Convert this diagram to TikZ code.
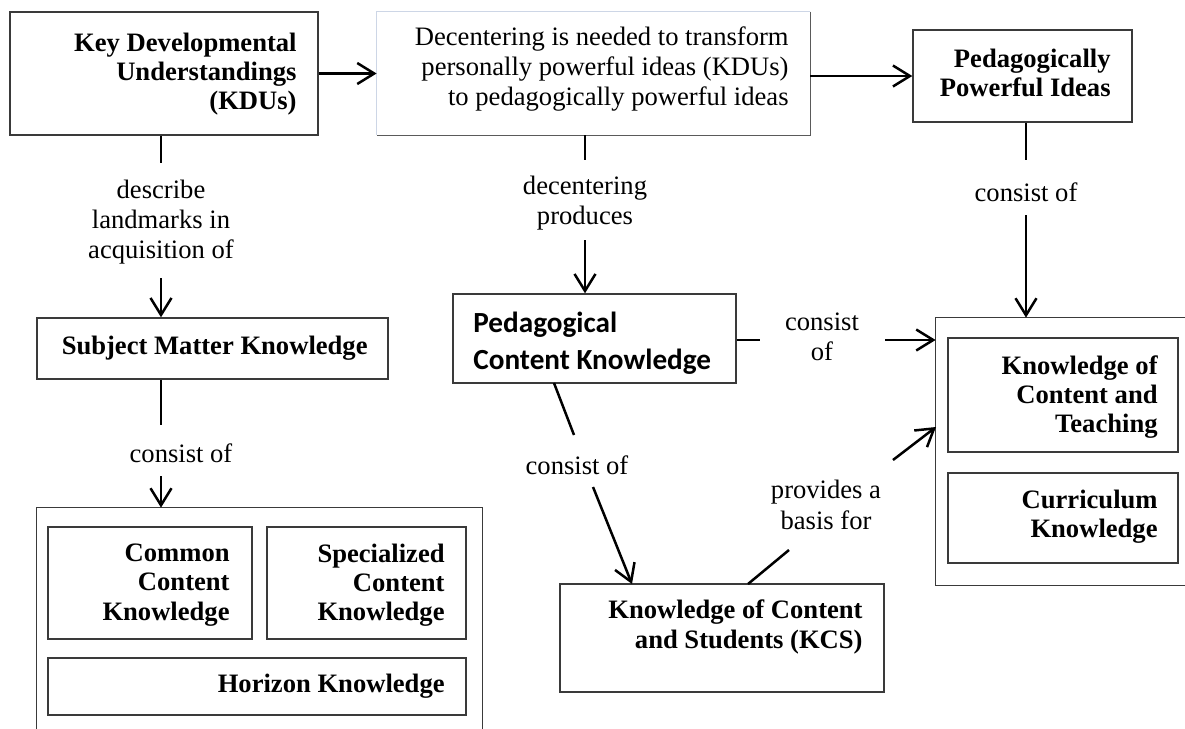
\documentclass[tikz,border=0pt]{standalone}
\usepackage{fontspec}
\setmainfont{Liberation Serif}
\newfontfamily\pcksans{Carlito}
\usetikzlibrary{arrows.meta,fit}
\definecolor{boxgray}{HTML}{3A3A3A}
\definecolor{lightedge}{HTML}{CDD6E6}
\definecolor{darkedge}{HTML}{5A5A5A}
\begin{document}
\begin{tikzpicture}[x=0.5pt,y=-0.5pt,
  box/.style={draw=boxgray, line width=0.7pt, inner sep=0pt},
  area/.style={inner sep=0pt},
  edgeline/.style={draw=boxgray, line width=0.7pt},
  conn/.style={line width=1.25pt},
  arr/.style={conn, -{Straight Barb[length=8.5pt,width=10.5pt,line width=1.25pt]}},
  hd/.style={font=\bfseries\fontsize{13.3}{14.6}\selectfont, inner sep=0pt, align=right},
  lbl/.style={font=\fontsize{13.3}{15.2}\selectfont, inner sep=0pt, align=center}]
\useasboundingbox (0,0) rectangle (1185,729);
\fill[white] (0,0) rectangle (1185,729);

% ---------- boxes ----------
\node[box, fit={(10,12)(318,135)}] (kdu) {};
\node[hd, anchor=east] (kdut) at (297,74) {Key Developmental\\Understandings\\(KDUs)};

\node[area, fit={(377,12)(810,135)}] (dec) {};
\draw[lightedge, line width=0.8pt] (dec.south west) -- (dec.north west) -- (dec.north east);
\draw[darkedge, line width=0.8pt] (dec.north east) -- (dec.south east) -- (dec.south west);
\node[font=\fontsize{13.3}{15.2}\selectfont, inner sep=0pt, align=right, anchor=east] (dect) at (789,69) {Decentering is needed to transform\\personally powerful ideas (KDUs)\\to pedagogically powerful ideas};

\node[box, fit={(913,30)(1132,122)}] (ppi) {};
\node[hd, anchor=east] (ppit) at (1111,73) {Pedagogically\\Powerful Ideas};

\node[box, fit={(37,318)(388,379)}] (smk) {};
\node[hd, anchor=east] (smkt) at (368,348) {Subject Matter Knowledge};

\node[area, fit={(37,508)(482,729)}] (smkc) {};
\draw[edgeline] (smkc.south west) -- (smkc.north west) -- (smkc.north east) -- (smkc.south east);
\node[box, fit={(48,527)(252,639)}] (cck) {};
\node[hd, anchor=east] (cckt) at (230,585) {Common\\Content\\Knowledge};
\node[box, fit={(267,527)(466,639)}] (sck) {};
\node[hd, anchor=east] (sckt) at (445,585) {Specialized\\Content\\Knowledge};
\node[box, fit={(48,658)(466,715)}] (hor) {};
\node[hd, anchor=east] (hort) at (445,686) {Horizon Knowledge};

\node[box, fit={(453,294)(736,383)}] (pck) {};
\node[font=\pcksans\bfseries\fontsize{14.6}{18.5}\selectfont, inner sep=0pt, align=left, anchor=west] (pckt) at (473,343) {Pedagogical\\Content Knowledge};

\node[box, fit={(560,584)(884,692)}] (kcs) {};
\node[hd, anchor=east] (kcst) at (863,627) {Knowledge of Content\\and Students (KCS)};

\node[area, fit={(936,318)(1185,585)}] (rc) {};
\draw[edgeline] (rc.north east) -- (rc.north west) -- (rc.south west) -- (rc.south east);
\node[box, fit={(948,338)(1178,452)}] (kct) {};
\node[hd, anchor=east] (kctt) at (1158,397) {Knowledge of\\Content and\\Teaching};
\node[box, fit={(948,473)(1178,563)}] (ck) {};
\node[hd, anchor=east] (ckt) at (1158,517) {Curriculum\\Knowledge};

% ---------- connectors ----------
\draw[arr] (kdu.east) -- (kdu.east -| dec.west);
\draw[arr] (ppi.west -| dec.east) -- (ppi.west);

% KDU -> SMK
\coordinate (a1) at (161,163);
\draw[conn] (kdu.south -| a1) -- (a1);
\node[lbl] (t1) at (161,222) {describe\\landmarks in\\acquisition of};
\coordinate (a2) at (161,278);
\draw[arr] (a2) -- (a2 |- smk.north);

% SMK -> container
\coordinate (b1) at (161,425);
\draw[conn] (smk.south -| b1) -- (b1);
\node[lbl] (t2) at (181,453) {consist of};
\coordinate (b2) at (161,476);
\draw[arr] (b2) -- (b2 |- smkc.north);

% decentering -> PCK
\coordinate (c1) at (585,160);
\draw[conn] (dec.south -| c1) -- (c1);
\node[lbl] (t3) at (585,203) {decentering\\produces};
\coordinate (c2) at (585,240);
\draw[arr] (c2) -- (c2 |- pck.north);

% PPI -> right container
\coordinate (d1) at (1026,160);
\draw[conn] (ppi.south -| d1) -- (d1);
\node[lbl] (t4) at (1026,192) {consist of};
\coordinate (d2) at (1026,215);
\draw[arr] (d2) -- (d2 |- rc.north);

% PCK -> right container
\coordinate (e1) at (760,340);
\draw[conn] (pck.east |- e1) -- (e1);
\node[lbl] (t5) at (822,337) {consist\\of};
\coordinate (e2) at (885,340);
\draw[arr] (e2) -- (e2 -| rc.west);

% PCK -> KCS
\coordinate (f0) at (554,383);
\coordinate (f1) at (574,435);
\draw[conn] (f0) -- (f1);
\node[lbl] (t6) at (577,465) {consist of};
\coordinate (f2) at (593,487);
\coordinate (f3) at (632,584);
\draw[arr] (f2) -- (f3);

% KCS -> right container
\coordinate (g0) at (748,584);
\coordinate (g1) at (789,550);
\draw[conn] (g0) -- (g1);
\node[lbl] (t7) at (826,505) {provides a\\basis for};
\coordinate (g2) at (893,460);
\coordinate (g3) at (936,427);
\draw[arr] (g2) -- (g3);
\end{tikzpicture}
\end{document}
